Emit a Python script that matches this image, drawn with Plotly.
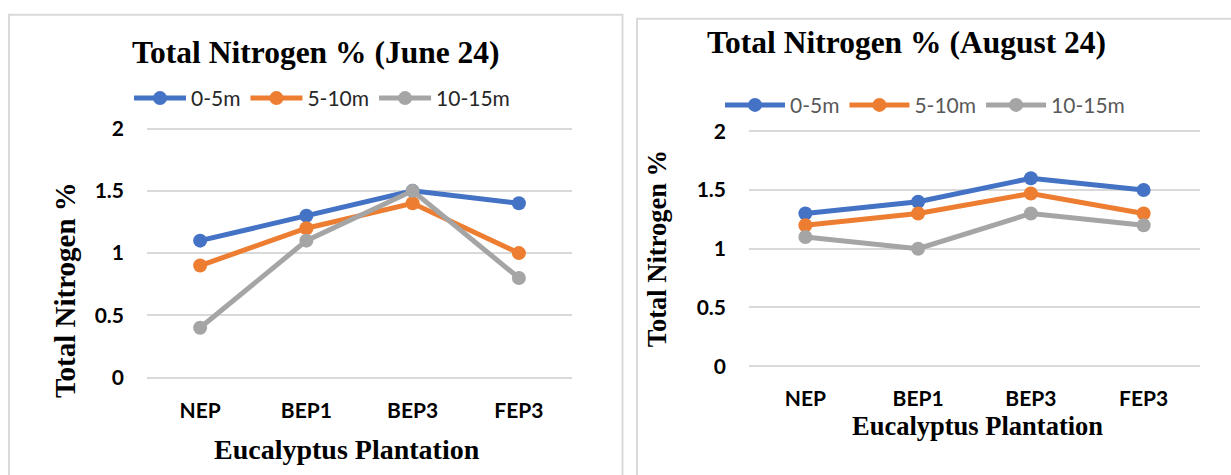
import plotly.graph_objects as go

# ---------------- data ----------------
categories = ["NEP", "BEP1", "BEP3", "FEP3"]
series_names = ["0-5m", "5-10m", "10-15m"]

june_0_5 = [1.1, 1.3, 1.5, 1.4]
june_5_10 = [0.9, 1.2, 1.4, 1.0]
june_10_15 = [0.4, 1.1, 1.5, 0.8]

aug_0_5 = [1.3, 1.4, 1.6, 1.5]
aug_5_10 = [1.2, 1.3, 1.47, 1.3]
aug_10_15 = [1.1, 1.0, 1.3, 1.2]

y_tick_vals = [0, 0.5, 1, 1.5, 2]
y_tick_labels = ["0", "0.5", "1", "1.5", "2"]

title_june = "Total Nitrogen % (June 24)"
title_aug = "Total Nitrogen % (August 24)"
x_title = "Eucalyptus Plantation"
y_title = "Total Nitrogen %"

# ---------------- style ----------------
colors = ["#4472C4", "#ED7D31", "#A5A5A5"]
W, H = 1231, 475
serif = "Liberation Serif"
sans = "Lato"


def px(x):
    return x / W


def py(y):
    return 1 - y / H


fig = go.Figure()

june = [june_0_5, june_5_10, june_10_15]
aug = [aug_0_5, aug_5_10, aug_10_15]

for name, vals, col in zip(series_names, june, colors):
    fig.add_trace(go.Scatter(
        x=categories, y=vals, name=name, mode="lines+markers",
        line=dict(color=col, width=5), marker=dict(color=col, size=14),
        xaxis="x", yaxis="y", legend="legend"))

for name, vals, col in zip(series_names, aug, colors):
    fig.add_trace(go.Scatter(
        x=categories, y=vals, name=name, mode="lines+markers",
        line=dict(color=col, width=5), marker=dict(color=col, size=14),
        xaxis="x2", yaxis="y2", legend="legend2"))

tick_font = dict(family=sans, size=21, color="#000000", weight="bold")
xcommon = dict(type="category", range=[-0.5, 3.5], showgrid=False, showline=False,
               zeroline=False, ticks="", tickfont=tick_font, ticklabelstandoff=12)
ycommon = dict(range=[-0.05, 2.05], tickmode="array", tickvals=y_tick_vals,
               ticktext=y_tick_labels, showgrid=True, gridcolor="#d9d9d9",
               gridwidth=1.5, zeroline=False, showline=False, ticks="",
               tickfont=tick_font, ticklabelstandoff=22)

fig.update_layout(
    width=W, height=H,
    margin=dict(l=0, r=0, t=0, b=0),
    paper_bgcolor="white", plot_bgcolor="white",
    xaxis=dict(domain=[px(147), px(572)], anchor="y", **xcommon),
    yaxis=dict(domain=[py(386.4), py(117.6)], anchor="x", **ycommon),
    xaxis2=dict(domain=[px(749), px(1200)], anchor="y2", **xcommon),
    yaxis2=dict(domain=[py(374.3), py(120.7)], anchor="x2", **ycommon),
    legend=dict(orientation="h", x=px(129), xanchor="left", y=py(93), yanchor="middle",
                font=dict(family=sans, size=21, color="#262626"),
                bgcolor="rgba(0,0,0,0)", itemwidth=52),
    legend2=dict(orientation="h", x=px(720), xanchor="left", y=py(100), yanchor="middle",
                 font=dict(family=sans, size=21, color="#595959"),
                 bgcolor="rgba(0,0,0,0)", itemwidth=60),
    showlegend=True,
)

annotations = [
    dict(text=title_june, x=px(316), y=py(46), font=dict(family=serif, size=31.5, color="black", weight="bold")),
    dict(text=title_aug, x=px(906), y=py(35), font=dict(family=serif, size=31.5, color="black", weight="bold")),
    dict(text=x_title, x=px(347), y=py(454), font=dict(family=serif, size=28, color="black", weight="bold")),
    dict(text=x_title, x=px(977), y=py(430), font=dict(family=serif, size=26.5, color="black", weight="bold")),
    dict(text=y_title, x=px(65), y=py(290), textangle=-90, font=dict(family=serif, size=29, color="black", weight="bold")),
    dict(text=y_title, x=px(657), y=py(248), textangle=-90, font=dict(family=serif, size=26.5, color="black", weight="bold")),
]
for a in annotations:
    fig.add_annotation(xref="paper", yref="paper", showarrow=False,
                       xanchor="center", yanchor="middle", **a)

# panel borders
fig.add_shape(type="rect", xref="paper", yref="paper",
              x0=px(9), x1=px(622.5), y0=py(490), y1=py(7),
              line=dict(color="#d9d9d9", width=2), fillcolor="rgba(0,0,0,0)", layer="below")
fig.add_shape(type="rect", xref="paper", yref="paper",
              x0=px(637), x1=px(1250), y0=py(490), y1=py(11),
              line=dict(color="#d9d9d9", width=2), fillcolor="rgba(0,0,0,0)", layer="below")

post = (
    "document.documentElement.style.margin='0';"
    "document.body.style.margin='0';document.body.style.padding='0';"
    "document.body.style.overflow='hidden';"
    "var gd=document.getElementById('{plot_id}');"
    "gd.style.position='fixed';gd.style.top='0px';gd.style.left='0px';"
)
fig.write_html("out.html", config={"displayModeBar": False}, post_script=post)
